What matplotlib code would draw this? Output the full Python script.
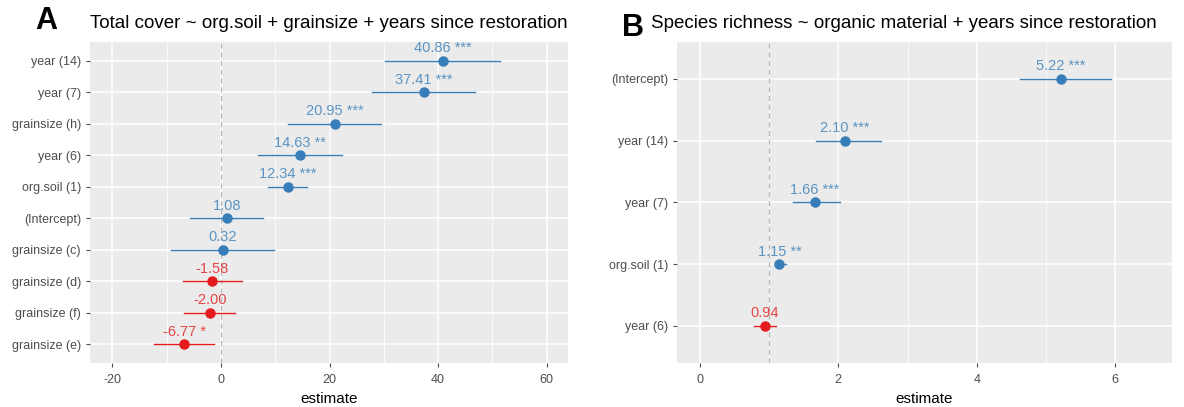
import matplotlib.pyplot as plt
from matplotlib.ticker import MultipleLocator

# %% Data.
# Panel A: total cover model.
terms_a = ['year (14)', 'year (7)', 'grainsize (h)', 'year (6)', 'org.soil (1)',
           '(Intercept)', 'grainsize (c)', 'grainsize (d)', 'grainsize (f)', 'grainsize (e)']
est_a = [40.86, 37.41, 20.95, 14.63, 12.34, 1.08, 0.32, -1.58, -2.00, -6.77]
low_a = [30.2, 27.8, 12.3, 6.8, 8.7, -5.7, -9.2, -7.0, -6.7, -12.4]
high_a = [51.3, 46.7, 29.5, 22.3, 15.9, 7.8, 9.7, 3.8, 2.6, -1.2]
stars_a = ['***', '***', '***', '**', '***', '', '', '', '', '*']

# Panel B: species richness model.
terms_b = ['(Intercept)', 'year (14)', 'year (7)', 'org.soil (1)', 'year (6)']
est_b = [5.22, 2.10, 1.66, 1.15, 0.94]
low_b = [4.62, 1.68, 1.35, 1.08, 0.78]
high_b = [5.94, 2.62, 2.03, 1.25, 1.10]
stars_b = ['***', '***', '***', '**', '']

col_pos = '#377EB8'
col_neg = '#E41A1C'

plt.rcParams['font.family'] = ['Liberation Sans', 'DejaVu Sans']
plt.rcParams['axes.unicode_minus'] = False


# %%
def forest(ax, terms, est, low, high, stars, ref, xlim, major, minor):
    n = len(terms)
    ypos = list(range(n, 0, -1))
    ax.set_facecolor('#EBEBEB')
    for sp in ax.spines.values():
        sp.set_visible(False)
    ax.xaxis.set_major_locator(MultipleLocator(major))
    ax.xaxis.set_minor_locator(MultipleLocator(minor))
    ax.grid(which='major', color='white', linewidth=1.1)
    ax.grid(which='minor', axis='x', color='white', linewidth=0.55)
    ax.set_axisbelow(True)
    ax.axvline(ref, color='#B8B8B8', linestyle=(0, (4, 3)), linewidth=0.9, zorder=1)

    for y, e, lo, hi, s in zip(ypos, est, low, high, stars):
        c = col_pos if e > ref else col_neg
        ax.plot([lo, hi], [y, y], color=c, linewidth=1.0, zorder=2)
        ax.plot(e, y, 'o', color=c, markersize=6.5, zorder=3)
        lab = f'{e:.2f} {s}'.strip()
        ax.annotate(lab, (e, y), xytext=(0, 4), textcoords='offset points',
                    ha='center', va='bottom', color=c, alpha=0.8, fontsize=10.5)

    ax.set_yticks(ypos)
    ax.set_yticklabels(terms)
    ax.set_xlim(*xlim)
    ax.set_ylim(0.4, n + 0.6)
    ax.tick_params(axis='both', colors='#4D4D4D', labelsize=9, length=3, width=0.8)
    ax.tick_params(axis='x', pad=5)
    ax.tick_params(axis='x', which='minor', length=0)
    ax.set_xlabel('estimate', fontsize=11, labelpad=4)


fig = plt.figure(figsize=(11.84, 4.07), dpi=100)
ax_a = fig.add_axes([0.076, 0.108, 0.4037, 0.789])
ax_b = fig.add_axes([0.5718, 0.108, 0.418, 0.789])

forest(ax_a, terms_a, est_a, low_a, high_a, stars_a, 0, (-24.1, 63.9), 20, 10)
forest(ax_b, terms_b, est_b, low_b, high_b, stars_b, 1, (-0.33, 6.82), 2, 1)

ax_a.set_title('Total cover ~ org.soil + grainsize + years since restoration',
               fontsize=13.5, loc='left', x=0.0, pad=10)
ax_b.set_title('Species richness ~ organic material + years since restoration',
               fontsize=13.5, loc='left', x=-0.0525, pad=10)

fig.text(0.030, 0.948, 'A', fontsize=22, fontweight='bold', va='center')
fig.text(0.525, 0.932, 'B', fontsize=22, fontweight='bold', va='center')

fig.savefig('out.png', dpi=100)
